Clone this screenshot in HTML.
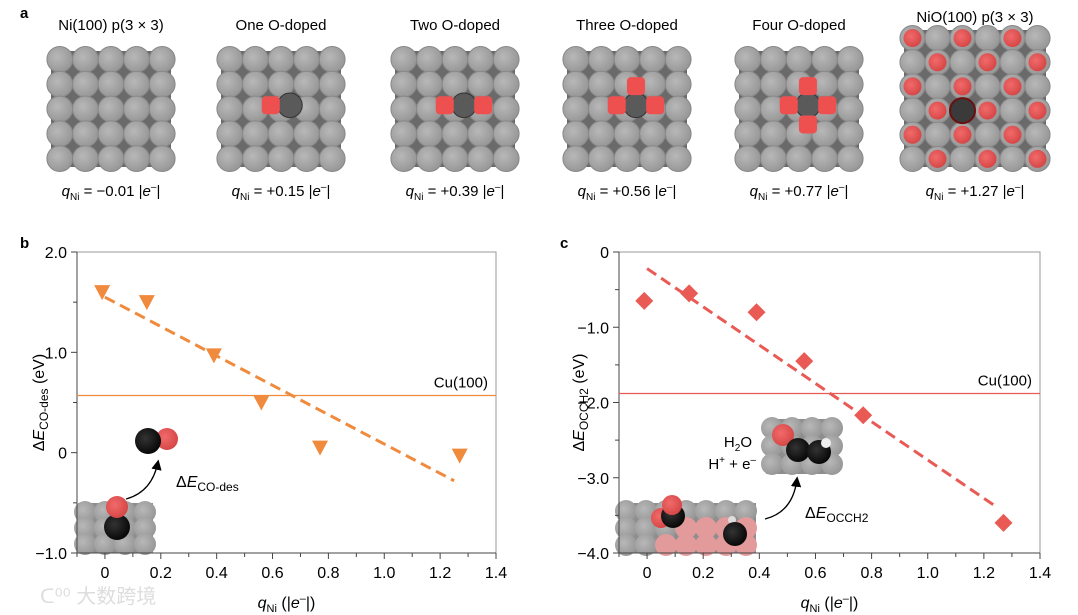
<!DOCTYPE html>
<html><head><meta charset="utf-8"><style>
html,body{margin:0;padding:0;background:#fff;}
svg{display:block;font-family:"Liberation Sans",Arial,sans-serif;}
</style></head><body>
<svg id="fig" width="1078" height="615" viewBox="0 0 1078 615" xmlns="http://www.w3.org/2000/svg">
<defs>
<radialGradient id="gs" cx="40%" cy="40%" r="65%"><stop offset="0" stop-color="#b8b8b8"/><stop offset="1" stop-color="#959595"/></radialGradient>
<radialGradient id="rs" cx="40%" cy="40%" r="65%"><stop offset="0" stop-color="#f26a6a"/><stop offset="1" stop-color="#d44545"/></radialGradient>
<radialGradient id="ks" cx="40%" cy="40%" r="65%"><stop offset="0" stop-color="#333"/><stop offset="1" stop-color="#050505"/></radialGradient>
<marker id="ah" markerWidth="8" markerHeight="8" refX="6" refY="4" orient="auto"><path d="M0,0 L8,4 L0,8 Z" fill="#000"/></marker>
</defs>
<text x="20" y="18" font-size="15" font-weight="bold">a</text>
<g id="tiles"></g>
<g id="pb"></g>
<g id="pc"></g>
<text x="40" y="603" font-size="20" fill="#ddd" font-family="'Liberation Sans','Noto Sans CJK SC',sans-serif">ᑕ⁰⁰ 大数跨境</text>
</svg>
<script>
const NS="http://www.w3.org/2000/svg";
// panel b data
const xB=[-0.01,0.15,0.39,0.56,0.77,1.27];
const yB=[1.6,1.5,0.97,0.5,0.05,-0.03];
const fitB=[[0,1.55],[1.25,-0.28]];
const refB=0.57;
const yTicksB=[2.0,1.0,0,-1.0];
const yTickLabB=["2.0","1.0","0","\u22121.0"];
// panel c data
const xC=[-0.01,0.15,0.39,0.56,0.77,1.27];
const yC=[-0.65,-0.55,-0.8,-1.45,-2.17,-3.6];
const fitC=[[0,-0.22],[1.25,-3.4]];
const refC=-1.88;
const yTicksC=[0,-1.0,-2.0,-3.0,-4.0];
const yTickLabC=["0","\u22121.0","\u22122.0","\u22123.0","\u22124.0"];
const xTicks=[0,0.2,0.4,0.6,0.8,1.0,1.2,1.4];
const xTickLab=["0","0.2","0.4","0.6","0.8","1.0","1.2","1.4"];
// top row
const tileTitles=["Ni(100) p(3 \u00d7 3)","One O-doped","Two O-doped","Three O-doped","Four O-doped","NiO(100) p(3 \u00d7 3)"];
const tileCharges=["\u22120.01","+0.15","+0.39","+0.56","+0.77","+1.27"];

function el(t,a,p){const e=document.createElementNS(NS,t);for(const k in a)e.setAttribute(k,a[k]);p.appendChild(e);return e;}

const tg=document.getElementById('tiles');
const centers=[111,281,455,627,799,975];
for(let i=0;i<6;i++){
  const cx=centers[i];
  const t=el('text',{x:cx,y:i==5?22:30,'font-size':15,'text-anchor':'middle'},tg);t.textContent=tileTitles[i];
  
  
  const g=el('g',{},tg);
  
  
  const n=i==5?6:5, w=i==5?150:128, h=i==5?145:124, x0=cx-w/2, y0=i==5?26:47;
  el('rect',{x:x0+4,y:y0+4,width:w-8,height:h-8,rx:8,fill:'#6a6a6a'},g);
  const sx=w/n, sy=h/n;
  for(let r=0;r<n;r++)for(let c=0;c<n;c++){
    el('circle',{cx:x0+sx*(c+0.5),cy:y0+sy*(r+0.5),r:Math.min(sx,sy)*0.52,fill:'url(#gs)',stroke:'#888','stroke-width':1},g);
  }
  if(i==5){
    for(let r=0;r<n;r++)for(let c=0;c<n;c++){ if((r+c)%2==0) el('circle',{cx:x0+sx*(c+0.5),cy:y0+sy*(r+0.5),r:sx*0.36,fill:'url(#rs)'},g);}
    el('circle',{cx:x0+sx*2.5,cy:y0+sy*3.5,r:sx*0.5,fill:'#3a3a3a',stroke:'#6a1010','stroke-width':2},g);
  } else if(i>0){
    const dx=x0+w*0.57, dy=y0+h*0.47, o=w*0.15;
    el('circle',{cx:dx,cy:dy,r:sx*0.48,fill:'#5a5a5a',stroke:'#333','stroke-width':1},g);
    const reds=[[-o,0],[o,0],[0,-o],[0,o]].slice(0,i);
    reds.forEach(p=>el('rect',{x:dx+p[0]-9,y:dy+p[1]-9,width:18,height:18,rx:4,fill:'#ee5050'},g));
  }
  const q=el('text',{x:cx,y:196,'font-size':15,'text-anchor':'middle'},tg);
  q.innerHTML='<tspan font-style="italic">q</tspan><tspan font-size="10" dy="4">Ni</tspan><tspan dy="-4"> = '+tileCharges[i]+' |</tspan><tspan font-style="italic">e</tspan><tspan dy="-6" font-size="10">\u2013</tspan><tspan dy="6">|</tspan>';
  
  
}

function panel(gid,cfg){
  const g=document.getElementById(gid);
  const L=cfg.L,R=cfg.R,T=252,B=553;
  const sx=v=>L+(v+0.1)/1.5*(R-L);
  const sy=v=>T+(cfg.ymax-v)/(cfg.ymax-cfg.ymin)*(B-T);
  const lab=el('text',{x:cfg.lx,y:248,'font-size':15,'font-weight':'bold'},g);lab.textContent=cfg.letter;
  
  
  cfg.inset(g);
  const fr=el('rect',{x:L,y:T,width:R-L,height:B-T,fill:'none',stroke:'#999','stroke-width':1},g);
  
  
  el('line',{x1:L,y1:T,x2:L,y2:B,stroke:'#444'},g);
  el('line',{x1:L,y1:B,x2:R,y2:B,stroke:'#444'},g);
  for(let v=-0.1;v<=1.401;v+=0.1){const x=sx(v);const major=Math.abs(Math.round(v*10)%2)==0;el('line',{x1:x,y1:B,x2:x,y2:B+(major?6:4),stroke:'#444'},g);}
  xTicks.forEach((v,i)=>{const t=el('text',{x:sx(v),y:B+25,'font-size':16,'text-anchor':'middle'},g);t.textContent=xTickLab[i];
    
    });
  for(let v=cfg.ymin;v<=cfg.ymax+0.01;v+=0.5){const y=sy(v);const major=Math.abs(v-Math.round(v))<0.01;el('line',{x1:L,y1:y,x2:L-(major?6:4),y2:y,stroke:'#444'},g);}
  cfg.yt.forEach((v,i)=>{const t=el('text',{x:L-10,y:sy(v)+6,'font-size':16,'text-anchor':'end'},g);t.textContent=cfg.ytl[i];
    
    });
  const xt=el('text',{x:(L+R)/2,y:608,'font-size':16,'text-anchor':'middle'},g);
  xt.innerHTML='<tspan font-style="italic">q</tspan><tspan font-size="11" dy="4">Ni</tspan><tspan dy="-4"> (|</tspan><tspan font-style="italic">e</tspan><tspan dy="-6" font-size="11">\u2013</tspan><tspan dy="6">|)</tspan>';
  
  
  const yt=el('text',{x:0,y:0,'font-size':16,'text-anchor':'middle',transform:'translate('+(cfg.lx+24)+','+((T+B)/2)+') rotate(-90)'},g);
  yt.innerHTML='\u0394<tspan font-style="italic">E</tspan><tspan font-size="12" dy="4">'+cfg.sub+'</tspan><tspan dy="-4"> (eV)</tspan>';
  
  
  const rl=el('line',{x1:L,y1:sy(cfg.ref),x2:R,y2:sy(cfg.ref),stroke:cfg.color,'stroke-width':1.3},g);
  
  
  const rt=el('text',{x:R-8,y:sy(cfg.ref)-8,'font-size':15,'text-anchor':'end'},g);rt.textContent='Cu(100)';
  
  
  const fl=el('line',{x1:sx(cfg.fit[0][0]),y1:sy(cfg.fit[0][1]),x2:sx(cfg.fit[1][0]),y2:sy(cfg.fit[1][1]),stroke:cfg.color,'stroke-width':3,'stroke-dasharray':'11 6'},g);
  
  
  cfg.xs.forEach((xv,i)=>{
    const x=sx(xv),y=sy(cfg.ys[i]);let m;
    if(cfg.marker=='tri') m=el('path',{d:'M'+(x-8)+','+(y-7)+' L'+(x+8)+','+(y-7)+' L'+x+','+(y+8)+' Z',fill:cfg.color},g);
    else m=el('path',{d:'M'+x+','+(y-9)+' L'+(x+9)+','+y+' L'+x+','+(y+9)+' L'+(x-9)+','+y+' Z',fill:cfg.color},g);
    
    
  });
}

function insetB(g){
  const ig=el('g',{},g);
  
  
  el('rect',{x:78,y:503,width:75,height:50,fill:'#8e8e8e'},ig);
  for(let c=0;c<4;c++)for(let r=0;r<3;r++)el('circle',{cx:85+c*20,cy:512+r*16,r:11,fill:'url(#gs)'},ig);
  el('circle',{cx:117,cy:527,r:13,fill:'url(#ks)'},ig);
  el('circle',{cx:117,cy:507,r:11,fill:'url(#rs)'},ig);
  el('circle',{cx:167,cy:439,r:11,fill:'url(#rs)'},ig);
  el('circle',{cx:148,cy:441,r:13,fill:'url(#ks)'},ig);
  el('path',{d:'M126,499 Q152,492 158,462',fill:'none',stroke:'#000','stroke-width':1.3,'marker-end':'url(#ah)'},ig);
  const t=el('text',{x:176,y:487,'font-size':16},ig);
  t.innerHTML='\u0394<tspan font-style="italic">E</tspan><tspan font-size="12" dy="4">CO-des</tspan>';
}
function insetC(g){
  const ig=el('g',{},g);
  
  
  el('rect',{x:620,y:503,width:136,height:50,fill:'#8e8e8e'},ig);
  for(let c=0;c<7;c++)for(let r=0;r<3;r++)el('circle',{cx:626+c*20,cy:511+r*17,r:11,fill:(c>2&&r>0)||(c==2&&r==2)?'#e39a9a':'url(#gs)'},ig);
  el('circle',{cx:661,cy:518,r:10,fill:'url(#rs)'},ig);
  el('circle',{cx:673,cy:516,r:12,fill:'url(#ks)'},ig);
  el('circle',{cx:672,cy:505,r:10,fill:'url(#rs)'},ig);
  el('circle',{cx:732,cy:520,r:4,fill:'#ddd'},ig);
  el('circle',{cx:735,cy:534,r:12,fill:'url(#ks)'},ig);
  el('rect',{x:766,y:419,width:70,height:55,fill:'#8e8e8e'},ig);
  for(let c=0;c<4;c++)for(let r=0;r<3;r++)el('circle',{cx:772+c*20,cy:428+r*18,r:11,fill:'url(#gs)'},ig);
  el('circle',{cx:783,cy:435,r:11,fill:'url(#rs)'},ig);
  el('circle',{cx:798,cy:450,r:12,fill:'url(#ks)'},ig);
  el('circle',{cx:819,cy:452,r:12,fill:'url(#ks)'},ig);
  el('circle',{cx:826,cy:443,r:5,fill:'#eee'},ig);
  const h=el('text',{x:752,y:447,'font-size':15,'text-anchor':'end'},ig);h.innerHTML='H<tspan font-size="10" dy="4">2</tspan><tspan dy="-4">O</tspan>';
  const h2=el('text',{x:756,y:469,'font-size':15,'text-anchor':'end'},ig);h2.innerHTML='H<tspan font-size="10" dy="-6">+</tspan><tspan dy="6"> + e</tspan><tspan font-size="10" dy="-6">\u2013</tspan>';
  el('path',{d:'M765,519 Q793,512 797,479',fill:'none',stroke:'#000','stroke-width':1.3,'marker-end':'url(#ah)'},ig);
  const t=el('text',{x:805,y:518,'font-size':16},ig);
  t.innerHTML='\u0394<tspan font-style="italic">E</tspan><tspan font-size="12" dy="4">OCCH2</tspan>';
}
panel('pb',{L:77,R:496,lx:20,letter:'b',ymin:-1,ymax:2,yt:yTicksB,ytl:yTickLabB,sub:'CO-des',ref:refB,fit:fitB,xs:xB,ys:yB,color:'#f08a3c',marker:'tri',inset:insetB});
panel('pc',{L:619,R:1040,lx:560,letter:'c',ymin:-4,ymax:0,yt:yTicksC,ytl:yTickLabC,sub:'OCCH2',ref:refC,fit:fitC,xs:xC,ys:yC,color:'#ea5a55',marker:'dia',inset:insetC});
</script>
</body></html>
